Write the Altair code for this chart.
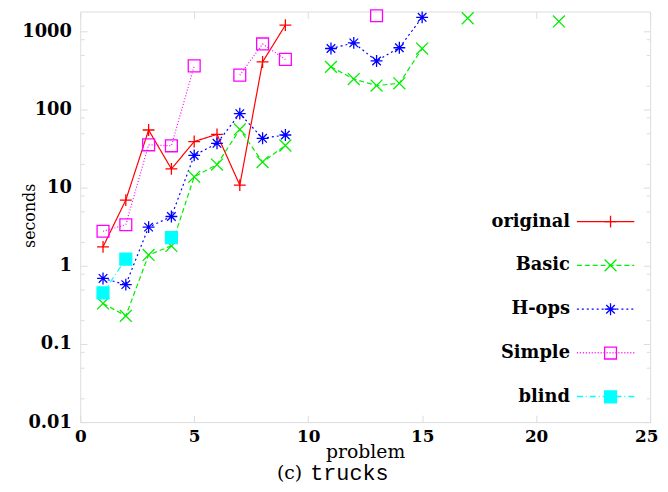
import altair as alt
import pandas as pd

# ---- data ----
problems = list(range(1, 22))
N = None
original = [1.75, 6.95, 54.8, 17.4, 39, 48.2, 10.8, 407, 1205] + [N] * 12
basic = [0.33, 0.229, 1.38, 1.8, 13.8, 19.8, 55.7, 21.3, 34.7, N,
         352, 246, 203, 217, 604, N, 1476, N, N, N, 1342]
hops = [0.69, 0.575, 3.13, 4.28, 25.9, 37, 88.7, 42.9, 47.3, N,
        605, 714, 419, 619, 1516] + [N] * 6
simple = [2.77, 3.36, 35.4, 34.4, 363, N, 276, 692, 439, N, N, N, 1590] + [N] * 8
blind = [0.45, 1.22, N, 2.3] + [N] * 17

series_names = ["original", "Basic", "H-ops", "Simple", "blind"]
series_values = [original, basic, hops, simple, blind]
line_keys = [n + " line" for n in series_names]

y_major = [0.01, 0.1, 1, 10, 100, 1000]
y_minor = [m * d for d in [0.01, 0.1, 1, 10, 100] for m in (2, 5, 8)]
x_ticks = [0, 5, 10, 15, 20, 25]

# ---- styles ----
colors = ["#ff0000", "#00ee00", "#0000ff", "#ff00ff", "#00ffff"]
dashes = [[1, 0], [5, 3], [2, 3], [1, 2], [6, 3, 1, 3]]
PLUS = "M-1,0L1,0M0,-1L0,1"
XSH = "M-1,-1L1,1M-1,1L1,-1"
AST = "M-1,0L1,0M0,-1L0,1M-0.72,-0.72L0.72,0.72M-0.72,0.72L0.72,-0.72"
shapes = [PLUS, XSH, AST, "square", "square"]
fills = ["transparent", "transparent", "transparent", "transparent", "#00ffff"]

rows = []
for name, key, vals in zip(series_names, line_keys, series_values):
    seg = 0
    prev = None
    for p, v in zip(problems, vals):
        if v is None:
            if prev is not None:
                seg += 1
            prev = None
            continue
        rows.append({"series": name, "line_key": key, "problem": p,
                     "seconds": v, "seg": f"{name}-{seg}"})
        prev = v
df = pd.DataFrame(rows)

W, H = 576, 415
SERIF = "DejaVu Serif"

minor_test = "abs(log(datum.value)/LN10 - round(log(datum.value)/LN10)) > 0.01"

x_scale = alt.Scale(domain=[0, 25], nice=False, zero=False)
y_scale = alt.Scale(type="log", domain=[0.01, 1800], nice=False)

legA = alt.Legend(
    title=None, orient="none", legendX=501, legendY=182.3, padding=0,
    symbolType="stroke", symbolSize=3364, symbolStrokeWidth=1.3,
    labelAlign="right", labelOffset={"expr": "-69"}, labelExpr="''",
    labelFont=SERIF, labelFontWeight="bold", labelFontSize=18,
    rowPadding=5.2,
)
legB = alt.Legend(
    title=None, orient="none", legendX=527, legendY=203.3, padding=0,
    symbolSize=144, symbolStrokeWidth=1.3,
    labelAlign="right", labelOffset={"expr": "-50"}, labelColor="black",
    labelFont=SERIF, labelFontWeight="bold", labelFontSize=18,
    rowPadding=26.3,
)

base = alt.Chart(df)

lines = base.mark_line(strokeWidth=1.2).encode(
    x=alt.X("problem:Q", scale=x_scale, axis=alt.Axis(
        values=x_ticks, title="problem", grid=True, gridDash=[7, H - 14],
        ticks=False, domain=False, labelPadding=7, labelFlush=False,
        labelOffset={"condition": {"test": "datum.value == 25", "value": -4},
                     "value": 0},
        labelFont=SERIF, labelFontWeight="bold", labelFontSize=17,
        labelColor="black",
        titleFont=SERIF, titleFontWeight="normal", titleFontSize=19,
        titleColor="black", titleY=30, titleBaseline="middle")),
    y=alt.Y("seconds:Q", scale=y_scale, axis=alt.Axis(
        values=y_major + y_minor, format="~g",
        labelExpr="abs(log(datum.value)/LN10 - round(log(datum.value)/LN10)) < 0.01 ? datum.label : ''",
        labelOverlap=False, labelFlush=False,
        grid=True,
        gridDash={"condition": {"test": minor_test, "value": [4, W - 8]},
                  "value": [7, W - 14]},
        ticks=False, domain=False, labelPadding=9,
        labelFont=SERIF, labelFontWeight="bold", labelFontSize=18,
        labelColor="black",
        title="seconds", titleFont=SERIF, titleFontWeight="normal",
        titleFontSize=16, titleColor="black",
        titleX=-51, titleY=206, titleBaseline="middle", titleAlign="center")),
    color=alt.Color("line_key:N", scale=alt.Scale(domain=line_keys, range=colors),
                    legend=legA),
    strokeDash=alt.StrokeDash("line_key:N",
                              scale=alt.Scale(domain=line_keys, range=dashes),
                              legend=legA),
    detail="seg:N",
)

points = base.mark_point(filled=False, size=144, strokeWidth=1.3, opacity=1).encode(
    x=alt.X("problem:Q", axis=alt.Axis(
        orient="bottom", labels=False, ticks=False, domain=False, grid=False,
        title="(c)", titleFont=SERIF, titleFontWeight="normal", titleFontSize=19,
        titleColor="black", titleX=211, titleY=51, titleBaseline="middle",
        titleAlign="center")),
    y=alt.Y("seconds:Q", axis=alt.Axis(
        orient="left", labels=False, ticks=False, domain=False, grid=False,
        title="trucks", titleAngle=0, titleFont="Liberation Mono",
        titleFontWeight="normal", titleFontSize=22, titleColor="black",
        titleX=232, titleY=466, titleAlign="left", titleBaseline="middle")),
    stroke=alt.Stroke("series:N", scale=alt.Scale(domain=series_names, range=colors),
                      legend=legB),
    shape=alt.Shape("series:N", scale=alt.Scale(domain=series_names, range=shapes),
                    legend=legB),
    fill=alt.Fill("series:N", scale=alt.Scale(domain=series_names, range=fills),
                  legend=legB),
)

chart = alt.layer(lines, points).resolve_axis(
    x="independent", y="independent"
).properties(
    width=W, height=H,
    autosize=alt.AutoSizeParams(type="none"),
    padding={"left": 73, "top": 1, "right": 10, "bottom": 60},
).configure_view(
    stroke="black", strokeWidth=1.2
).configure_axis(
    gridColor="black", gridOpacity=1, gridWidth=1
).configure(
    background="white"
)

chart.save("out.html", embed_options={"renderer": "svg", "actions": False})
